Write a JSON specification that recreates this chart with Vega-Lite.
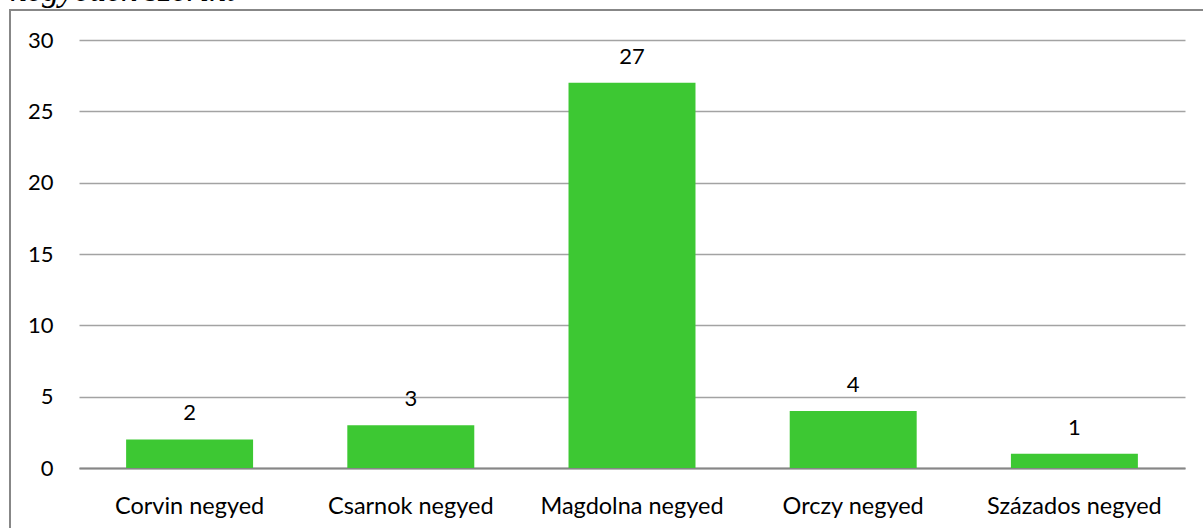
{
  "$schema": "https://vega.github.io/schema/vega-lite/v6.json",
  "autosize": {"type": "none"},
  "padding": {"top": 10, "left": 10, "right": 0, "bottom": 0},
  "width": 1196,
  "height": 522,
  "background": "white",
  "title": {
    "text": "negyedek szerint",
    "anchor": "start",
    "frame": "group",
    "font": "Liberation Serif",
    "fontStyle": "italic",
    "fontWeight": "normal",
    "fontSize": 34,
    "color": "#000000",
    "baseline": "alphabetic",
    "offset": 0,
    "dy": 25
  },
  "data": {
    "values": [
      {"negyed": "Corvin negyed", "darab": 2},
      {"negyed": "Csarnok negyed", "darab": 3},
      {"negyed": "Magdolna negyed", "darab": 27},
      {"negyed": "Orczy negyed", "darab": 4},
      {"negyed": "Százados negyed", "darab": 1}
    ]
  },
  "encoding": {
    "x": {
      "field": "negyed",
      "type": "nominal",
      "sort": null,
      "scale": {"range": [69, 1175], "paddingInner": 0.426, "paddingOuter": 0.213},
      "axis": {
        "title": null,
        "orient": "bottom",
        "offset": -64,
        "labelAngle": 0,
        "labelFont": "Lato",
        "labelFontSize": 23.5,
        "labelColor": "#000000",
        "labelPadding": 45,
        "labelBaseline": "alphabetic",
        "labelLimit": 0,
        "ticks": false,
        "tickSize": 0,
        "domain": true,
        "domainColor": "#868686",
        "domainWidth": 2,
        "grid": false
      }
    },
    "y": {
      "field": "darab",
      "type": "quantitative",
      "scale": {"domain": [0, 30], "range": [458, 30], "nice": false},
      "axis": {
        "title": null,
        "orient": "left",
        "offset": -69,
        "values": [0, 5, 10, 15, 20, 25, 30],
        "labelFont": "Lato",
        "labelFontSize": 22,
        "labelColor": "#000000",
        "labelPadding": 26,
        "ticks": false,
        "tickSize": 0,
        "domain": false,
        "grid": true,
        "gridColor": "#a3a3a3",
        "gridWidth": 1.5
      }
    }
  },
  "layer": [
    {
      "mark": {"type": "bar", "color": "#3dc833"}
    },
    {
      "mark": {"type": "text", "font": "Lato", "fontSize": 22, "color": "#000000", "baseline": "alphabetic", "dy": -19},
      "encoding": {"text": {"field": "darab", "type": "quantitative"}}
    }
  ],
  "config": {
    "view": {"stroke": "#878787", "strokeWidth": 2}
  }
}
